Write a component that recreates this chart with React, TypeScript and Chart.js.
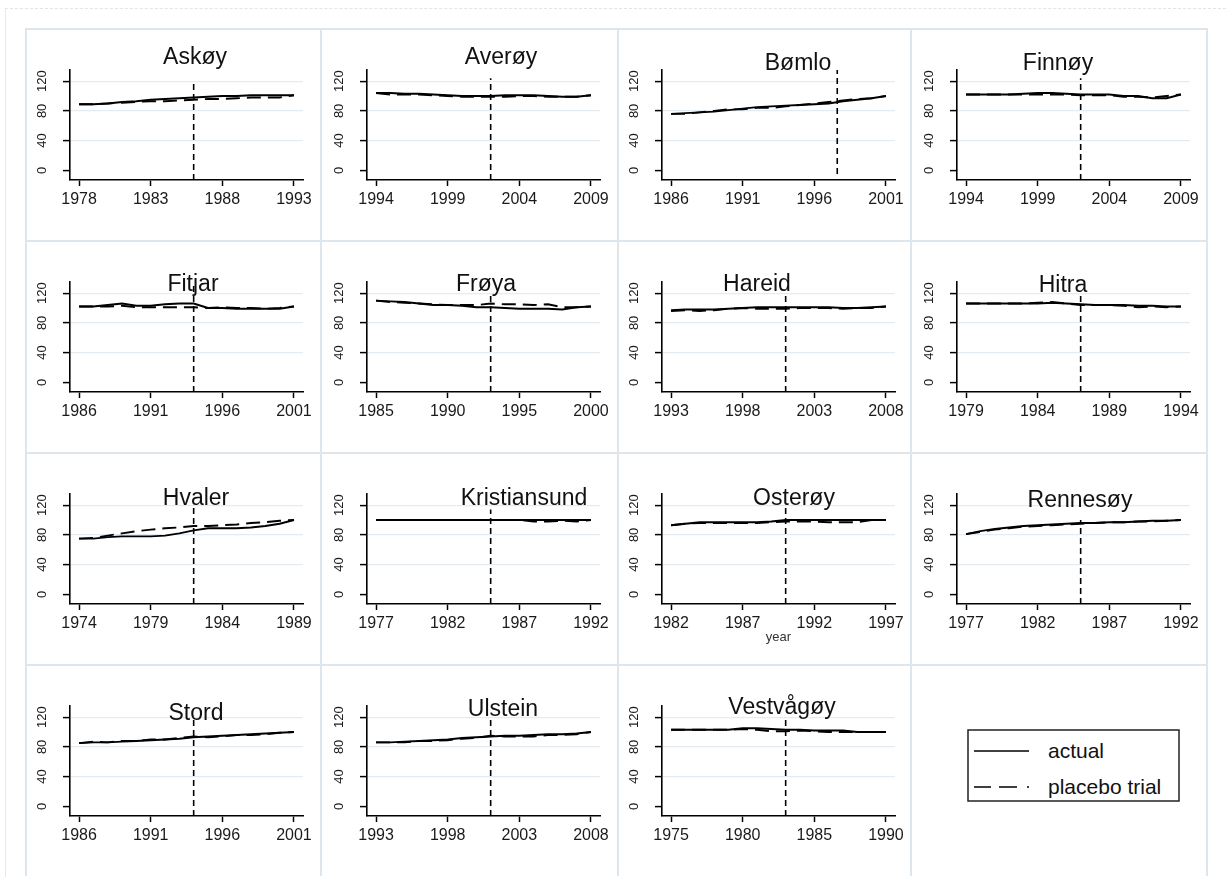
import React, { useEffect, useRef } from "react";
import { Chart, registerables } from "chart.js";

Chart.register(...registerables);

const FONT = "'Liberation Sans', Arial, Helvetica, sans-serif";

// ---------------- data ----------------
const regionNames = [
  "Askøy", "Averøy", "Bømlo", "Finnøy",
  "Fitjar", "Frøya", "Hareid", "Hitra",
  "Hvaler", "Kristiansund", "Osterøy", "Rennesøy",
  "Stord", "Ulstein", "Vestvågøy",
];
const startYears = [1978, 1994, 1986, 1994, 1986, 1985, 1993, 1979, 1974, 1977, 1982, 1977, 1986, 1993, 1975];
const treatYears = [1986, 2002, 1997.6, 2002, 1994, 1993, 2001, 1987, 1982, 1985, 1990, 1985, 1994, 2001, 1983];
const yTickValues = [0, 40, 80, 120];
const xTickOffsets = [0, 5, 10, 15];
const legendLabels = ["actual", "placebo trial"];
const xAxisTitle = "year";

const askoyActual = [89, 89, 90, 92, 93, 95, 96, 97, 98, 99, 100, 100, 101, 101, 101, 101];
const askoyPlacebo = [89, 89, 90, 91, 92, 93, 93, 94, 95, 96, 96, 97, 98, 98, 98, 101];
const averoyActual = [104, 104, 103, 103, 102, 101, 100, 100, 100, 101, 101, 101, 100, 99, 99, 101];
const averoyPlacebo = [104, 102, 102, 102, 101, 100, 99, 99, 99, 99, 100, 100, 99, 99, 99, 101];
const bomloActual = [76, 77, 78, 79, 81, 83, 85, 86, 87, 88, 89, 90, 93, 95, 97, 100];
const bomloPlacebo = [76, 76, 78, 80, 82, 82, 84, 84, 86, 88, 90, 92, 94, 96, 97, 100];
const finnoyActual = [102, 102, 102, 102, 103, 104, 104, 103, 102, 102, 102, 100, 100, 97, 97, 102];
const finnoyPlacebo = [102, 102, 102, 102, 102, 102, 102, 102, 101, 101, 101, 99, 99, 98, 100, 102];
const fitjarActual = [102, 102, 104, 106, 103, 103, 105, 106, 106, 100, 100, 99, 99, 99, 99, 102];
const fitjarPlacebo = [102, 102, 102, 103, 101, 101, 101, 101, 101, 100, 101, 100, 100, 99, 100, 102];
const froyaActual = [110, 109, 108, 106, 104, 104, 103, 101, 101, 100, 99, 99, 99, 98, 101, 102];
const froyaPlacebo = [110, 108, 107, 106, 105, 104, 104, 104, 106, 105, 105, 104, 105, 101, 101, 102];
const hareidActual = [97, 98, 98, 98, 99, 100, 101, 101, 101, 101, 101, 101, 100, 100, 101, 102];
const hareidPlacebo = [96, 97, 96, 97, 99, 100, 99, 99, 99, 100, 100, 100, 99, 100, 100, 102];
const hitraActual = [106, 106, 106, 106, 106, 106, 107, 106, 105, 104, 104, 104, 103, 103, 102, 102];
const hitraPlacebo = [106, 106, 106, 106, 106, 107, 108, 106, 104, 104, 104, 103, 101, 102, 101, 102];
const hvalerActual = [75, 75, 77, 78, 78, 78, 79, 82, 86, 89, 89, 89, 90, 92, 95, 100];
const hvalerPlacebo = [75, 76, 79, 82, 85, 87, 89, 90, 92, 92, 93, 94, 96, 97, 99, 100];
const kristiansundActual = [100, 100, 100, 100, 100, 100, 100, 100, 100, 100, 100, 100, 100, 100, 100, 100];
const kristiansundPlacebo = [100, 100, 100, 100, 100, 100, 100, 100, 100, 100, 100, 98, 98, 99, 98, 100];
const osteroyActual = [93, 95, 97, 97, 97, 97, 97, 98, 100, 100, 100, 100, 100, 100, 100, 100];
const osteroyPlacebo = [93, 95, 96, 96, 96, 96, 96, 97, 98, 98, 98, 97, 97, 97, 100, 100];
const rennesoyActual = [81, 85, 88, 90, 92, 93, 94, 95, 96, 96, 97, 97, 98, 99, 99, 100];
const rennesoyPlacebo = [81, 84, 87, 89, 91, 92, 93, 94, 95, 96, 97, 97, 98, 98, 99, 100];
const stordActual = [85, 86, 86, 87, 88, 89, 90, 91, 93, 94, 95, 96, 97, 98, 99, 100];
const stordPlacebo = [85, 87, 86, 88, 88, 90, 90, 92, 94, 93, 94, 96, 96, 97, 99, 100];
const ulsteinActual = [86, 86, 87, 88, 89, 90, 92, 93, 94, 95, 95, 96, 97, 97, 98, 100];
const ulsteinPlacebo = [86, 86, 86, 88, 88, 89, 91, 92, 95, 94, 94, 94, 96, 96, 97, 100];
const vestvagoyActual = [103, 103, 103, 103, 103, 105, 105, 104, 103, 103, 102, 102, 102, 100, 100, 100];
const vestvagoyPlacebo = [103, 103, 103, 103, 103, 104, 103, 101, 101, 102, 101, 100, 100, 100, 100, 100];

const actualSeries = [
  askoyActual, averoyActual, bomloActual, finnoyActual,
  fitjarActual, froyaActual, hareidActual, hitraActual,
  hvalerActual, kristiansundActual, osteroyActual, rennesoyActual,
  stordActual, ulsteinActual, vestvagoyActual,
];
const placeboSeries = [
  askoyPlacebo, averoyPlacebo, bomloPlacebo, finnoyPlacebo,
  fitjarPlacebo, froyaPlacebo, hareidPlacebo, hitraPlacebo,
  hvalerPlacebo, kristiansundPlacebo, osteroyPlacebo, rennesoyPlacebo,
  stordPlacebo, ulsteinPlacebo, vestvagoyPlacebo,
];
// vertical treatment-line extent (y values)
const vlineSpans = [
  [-13, 121], [-13, 124], [-5, 135], [-13, 124],
  [-13, 135], [-13, 116], [-13, 121], [-13, 121],
  [-13, 121], [-13, 114], [-13, 121], [-13, 100],
  [-13, 122], [-13, 121], [-13, 119],
];

// ---------------- layout ----------------
const colLefts = [25, 322, 617, 912];
const rowTops = [28, 240, 452, 664];
const cellLefts = [25, 320, 617, 910];
const cellRight = 1208;
const PANEL_W = 295;
const PANEL_H = 212;
const titleCenters = [
  [195, 64], [501, 64], [798, 70], [1058, 70],
  [193, 291], [486, 291], [757, 291], [1063, 292],
  [196, 505], [524, 505], [794, 505], [1080, 507],
  [196, 720], [503, 716], [782, 714],
];
const YEAR_PANEL = 10;

const panelTitlePlugin = {
  id: "panelTitle",
  afterDraw(chart: any, _args: any, opts: any) {
    if (!opts || !opts.text) return;
    const ctx = chart.ctx;
    ctx.save();
    ctx.font = `23px ${FONT}`;
    ctx.fillStyle = "#111";
    ctx.textAlign = "center";
    ctx.textBaseline = "alphabetic";
    ctx.fillText(opts.text, opts.x, opts.y);
    ctx.restore();
  },
};

function Panel({ idx }: { idx: number }) {
  const ref = useRef<HTMLCanvasElement>(null);
  const col = idx % 4;
  const row = Math.floor(idx / 4);
  const left = colLefts[col];
  const top = rowTops[row];

  useEffect(() => {
    if (!ref.current) return;
    const start = startYears[idx];
    const act = actualSeries[idx];
    const plc = placeboSeries[idx];
    const actualData = act.map((v, i) => ({ x: start + i, y: v }));
    const placeboData = plc.map((v, i) => ({ x: start + i, y: v }));
    const tr = treatYears[idx];
    const span = vlineSpans[idx];
    const vline = [{ x: tr, y: span[0] }, { x: tr, y: span[1] }];

    const chart = new Chart(ref.current, {
      type: "line",
      data: {
        datasets: [
          {
            label: legendLabels[0],
            data: actualData,
            borderColor: "#000",
            borderWidth: 1.9,
            pointRadius: 0,
            tension: 0,
          },
          {
            label: legendLabels[1],
            data: placeboData,
            borderColor: "#000",
            borderWidth: 1.9,
            borderDash: [14, 7],
            pointRadius: 0,
            tension: 0,
          },
          {
            label: "treatment",
            data: vline,
            borderColor: "#000",
            borderWidth: 1.6,
            borderDash: [6, 4],
            pointRadius: 0,
          },
        ],
      },
      options: {
        animation: false,
        responsive: false,
        maintainAspectRatio: false,
        events: [],
        layout: { padding: { top: 42, right: 17, left: 0, bottom: 0 } },
        plugins: {
          legend: { display: false },
          tooltip: { enabled: false },
          title: { display: false },
          panelTitle: {
            text: regionNames[idx],
            x: titleCenters[idx][0] - left,
            y: titleCenters[idx][1] - top,
          },
        } as any,
        scales: {
          x: {
            type: "linear",
            min: start - 0.63,
            max: start + 15.63,
            afterBuildTicks: (s: any) => {
              s.ticks = xTickOffsets.map((k) => ({ value: start + k }));
            },
            afterFit: (s: any) => {
              s.height = 60;
            },
            grid: {
              display: true,
              drawOnChartArea: false,
              drawTicks: true,
              tickLength: 6,
              tickColor: "#000",
              tickWidth: 1.5,
            },
            border: { display: true, color: "#000", width: 1.6 },
            ticks: {
              autoSkip: false,
              maxRotation: 0,
              minRotation: 0,
              padding: 4,
              color: "#1a1a1a",
              font: { family: FONT, size: 16 },
              callback: (v: any) => String(v),
            },
            title: {
              display: idx === YEAR_PANEL,
              text: xAxisTitle,
              color: "#333",
              font: { family: FONT, size: 13 },
              padding: { top: 0, bottom: 19 },
            },
          },
          y: {
            type: "linear",
            min: -13,
            max: 135,
            afterBuildTicks: (s: any) => {
              s.ticks = yTickValues.map((v) => ({ value: v }));
            },
            afterFit: (s: any) => {
              s.width = 45;
            },
            grid: {
              display: true,
              drawOnChartArea: true,
              color: (c: any) =>
                c.tick && c.tick.value === 0 ? "rgba(0,0,0,0)" : "#e2ecf2",
              lineWidth: 1.2,
              tickLength: 7,
              tickColor: "#000",
              tickWidth: 1.5,
            },
            border: { display: true, color: "#000", width: 1.6 },
            ticks: {
              minRotation: 90,
              maxRotation: 90,
              crossAlign: "center",
              padding: 10,
              color: "#1a1a1a",
              font: { family: FONT, size: 13 },
              callback: (v: any) => String(v),
            },
          },
        },
      },
      plugins: [panelTitlePlugin as any],
    });
    return () => chart.destroy();
  }, [idx]);

  return (
    <canvas
      ref={ref}
      width={PANEL_W}
      height={PANEL_H}
      style={{ position: "absolute", left, top, width: PANEL_W, height: PANEL_H }}
    />
  );
}

export default function App() {
  const borderColor = "#dce6ec";
  const cells: React.ReactNode[] = [];
  for (let r = 0; r < 4; r++) {
    for (let c = 0; c < 4; c++) {
      const l = cellLefts[c];
      const w = (c < 3 ? cellLefts[c + 1] : cellRight) - l;
      cells.push(
        <div
          key={`cell-${r}-${c}`}
          style={{
            position: "absolute",
            left: l,
            top: rowTops[r],
            width: w,
            height: PANEL_H,
            boxSizing: "border-box",
            borderLeft: `2px solid ${borderColor}`,
            borderTop: `2px solid ${borderColor}`,
            borderRight: c === 3 ? `2px solid ${borderColor}` : undefined,
          }}
        />
      );
    }
  }
  return (
    <div
      style={{
        position: "absolute",
        left: 0,
        top: 0,
        width: 1226,
        height: 877,
        background: "#fff",
        overflow: "hidden",
      }}
    >
      <div
        style={{
          position: "absolute",
          left: 5,
          top: 8,
          width: 1221,
          height: 869,
          boxSizing: "border-box",
          borderLeft: "1px solid #e3e9ed",
          borderTop: "1px dashed #dfe6ea",
        }}
      />
      {cells}
      {regionNames.map((_, i) => (
        <Panel key={i} idx={i} />
      ))}
      <svg
        width={214}
        height={74}
        style={{ position: "absolute", left: 967, top: 729 }}
      >
        <rect x={1} y={1} width={211} height={71} fill="#fff" stroke="#222" strokeWidth={1.5} />
        <line x1={7} y1={22} x2={62} y2={22} stroke="#000" strokeWidth={1.6} />
        <text x={81} y={29} fontFamily={FONT} fontSize={21} fill="#111">
          {legendLabels[0]}
        </text>
        <line
          x1={7}
          y1={58}
          x2={62}
          y2={58}
          stroke="#000"
          strokeWidth={1.6}
          strokeDasharray="17 8 18 10 2 10"
        />
        <text x={81} y={65} fontFamily={FONT} fontSize={21} fill="#111">
          {legendLabels[1]}
        </text>
      </svg>
    </div>
  );
}
